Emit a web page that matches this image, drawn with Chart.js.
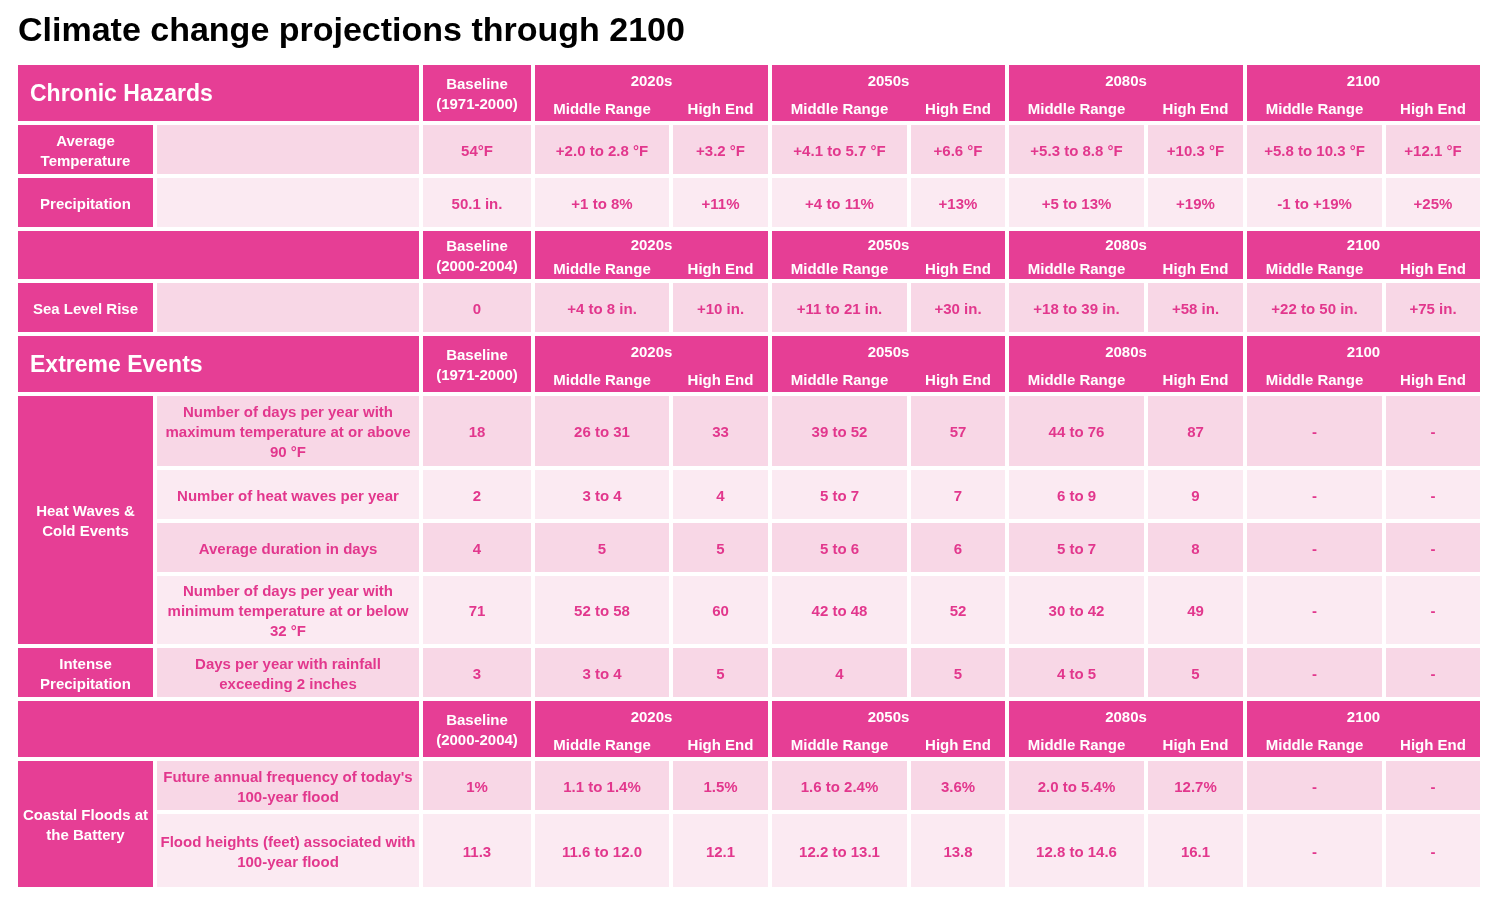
<!DOCTYPE html>
<html>
<head>
<meta charset="utf-8">
<script src="https://cdn.jsdelivr.net/npm/chart.js@4/dist/chart.umd.min.js"></script>
<style>
  html, body { margin: 0; padding: 0; background: #fff; }
  #wrap { width: 1488px; height: 898px; position: relative; }
</style>
</head>
<body>
<div id="wrap"><canvas id="chart"></canvas></div>
<script>
// ---- data ----
const chartTitle = "Climate change projections through 2100";
const sections = ["Chronic Hazards", "Extreme Events"];
const baselineObs = ["Baseline", "(1971-2000)"];
const baselineTide = ["Baseline", "(2000-2004)"];
const periods = ["2020s", "2050s", "2080s", "2100"];
const subHeaders = ["Middle Range", "High End"];

const hazards = [
  ["Average", "Temperature"],
  ["Precipitation"],
  ["Sea Level Rise"],
  ["Heat Waves &", "Cold Events"],
  ["Intense", "Precipitation"],
  ["Coastal Floods at", "the Battery"]
];
const indicators = [
  ["Number of days per year with", "maximum temperature at or above", "90 °F"],
  ["Number of heat waves per year"],
  ["Average duration in days"],
  ["Number of days per year with", "minimum temperature at or below", "32 °F"],
  ["Days per year with rainfall", "exceeding 2 inches"],
  ["Future annual frequency of today's", "100-year flood"],
  ["Flood heights (feet) associated with", "100-year flood"]
];

// baseline, 2020s mid/high, 2050s mid/high, 2080s mid/high, 2100 mid/high
const avgTemp = ["54°F", "+2.0 to 2.8 °F", "+3.2 °F", "+4.1 to 5.7 °F", "+6.6 °F", "+5.3 to 8.8 °F", "+10.3 °F", "+5.8 to 10.3 °F", "+12.1 °F"];
const precip = ["50.1 in.", "+1 to 8%", "+11%", "+4 to 11%", "+13%", "+5 to 13%", "+19%", "-1 to +19%", "+25%"];
const seaLevel = ["0", "+4 to 8 in.", "+10 in.", "+11 to 21 in.", "+30 in.", "+18 to 39 in.", "+58 in.", "+22 to 50 in.", "+75 in."];
const hotDays = ["18", "26 to 31", "33", "39 to 52", "57", "44 to 76", "87", "-", "-"];
const heatWaves = ["2", "3 to 4", "4", "5 to 7", "7", "6 to 9", "9", "-", "-"];
const waveDuration = ["4", "5", "5", "5 to 6", "6", "5 to 7", "8", "-", "-"];
const coldDays = ["71", "52 to 58", "60", "42 to 48", "52", "30 to 42", "49", "-", "-"];
const rainDays = ["3", "3 to 4", "5", "4", "5", "4 to 5", "5", "-", "-"];
const floodFreq = ["1%", "1.1 to 1.4%", "1.5%", "1.6 to 2.4%", "3.6%", "2.0 to 5.4%", "12.7%", "-", "-"];
const floodHeight = ["11.3", "11.6 to 12.0", "12.1", "12.2 to 13.1", "13.8", "12.8 to 14.6", "16.1", "-", "-"];

// ---- layout ----
const colWidths = [135, 262, 108, 134, 95, 135, 94, 135, 95, 135, 94];
const rowHeights = [56, 49, 49, 48, 49, 56, 70, 49, 49, 68, 49, 56, 49, 73];
const GAP = 4;
const LINE_H = 20;

const HEADER = "#e63e95";
const DARK = "#f8d7e6";
const LIGHT = "#fbeaf2";
const TEXT = "#e2378d";
const FONT = '"Liberation Sans", Arial, Helvetica, sans-serif';

const colStart = [];
colWidths.reduce((acc, w, i) => { colStart[i] = acc; return acc + w + GAP; }, 0);
const rowStart = [];
rowHeights.reduce((acc, h, i) => { rowStart[i] = acc; return acc + h + GAP; }, 0);
const totalW = colStart[colWidths.length - 1] + colWidths[colWidths.length - 1];
const totalH = rowStart[rowHeights.length - 1] + rowHeights[rowHeights.length - 1];

// ---- cells ----
const cells = [];

function headerRow(r, title, baseline) {
  cells.push({ c0: 0, c1: 1, r0: r, r1: r, fill: HEADER,
    texts: title ? [{ lines: [title], align: "left", pad: 12, size: 23, color: "#fff" }] : [] });
  cells.push({ c0: 2, c1: 2, r0: r, r1: r, fill: HEADER, texts: [{ lines: baseline, color: "#fff" }] });
  periods.forEach((p, i) => {
    const c = 3 + 2 * i;
    cells.push({ c0: c, c1: c + 1, r0: r, r1: r, fill: HEADER, texts: [
      { lines: [p], color: "#fff", dy: -0.23 },
      { lines: [subHeaders[0]], color: "#fff", dy: 0.26, col: c },
      { lines: [subHeaders[1]], color: "#fff", dy: 0.26, col: c + 1 }
    ] });
  });
}

function hazardCell(r0, r1, name) {
  cells.push({ c0: 0, c1: 0, r0, r1, fill: HEADER, texts: [{ lines: name, color: "#fff" }] });
}

function dataRow(r, values, fill, indicator) {
  cells.push({ c0: 1, c1: 1, r0: r, r1: r, fill, texts: indicator ? [{ lines: indicator, color: TEXT }] : [] });
  values.forEach((v, i) => {
    cells.push({ c0: 2 + i, c1: 2 + i, r0: r, r1: r, fill, texts: [{ lines: [v], color: TEXT }] });
  });
}

headerRow(0, sections[0], baselineObs);
hazardCell(1, 1, hazards[0]); dataRow(1, avgTemp, DARK);
hazardCell(2, 2, hazards[1]); dataRow(2, precip, LIGHT);
headerRow(3, "", baselineTide);
hazardCell(4, 4, hazards[2]); dataRow(4, seaLevel, DARK);
headerRow(5, sections[1], baselineObs);
hazardCell(6, 9, hazards[3]);
dataRow(6, hotDays, DARK, indicators[0]);
dataRow(7, heatWaves, LIGHT, indicators[1]);
dataRow(8, waveDuration, DARK, indicators[2]);
dataRow(9, coldDays, LIGHT, indicators[3]);
hazardCell(10, 10, hazards[4]); dataRow(10, rainDays, DARK, indicators[4]);
headerRow(11, "", baselineTide);
hazardCell(12, 13, hazards[5]);
dataRow(12, floodFreq, DARK, indicators[5]);
dataRow(13, floodHeight, LIGHT, indicators[6]);

// draws the table cells through the chart's x / y scales
const tablePlugin = {
  id: "tableCells",
  afterDraw(chart) {
    const { ctx } = chart;
    const x = chart.scales.x, y = chart.scales.y;
    ctx.save();
    cells.forEach(cell => {
      const x0 = x.getPixelForValue(colStart[cell.c0]);
      const x1 = x.getPixelForValue(colStart[cell.c1] + colWidths[cell.c1]);
      const y0 = y.getPixelForValue(rowStart[cell.r0]);
      const y1 = y.getPixelForValue(rowStart[cell.r1] + rowHeights[cell.r1]);
      ctx.fillStyle = cell.fill;
      ctx.fillRect(x0, y0, x1 - x0, y1 - y0);

      cell.texts.forEach(t => {
        ctx.font = "bold " + (t.size || 15) + "px " + FONT;
        ctx.fillStyle = t.color;
        ctx.textBaseline = "middle";
        let cx;
        if (t.align === "left") {
          ctx.textAlign = "left";
          cx = x0 + t.pad;
        } else {
          ctx.textAlign = "center";
          if (t.col !== undefined) {
            cx = (x.getPixelForValue(colStart[t.col]) + x.getPixelForValue(colStart[t.col] + colWidths[t.col])) / 2;
          } else {
            cx = (x0 + x1) / 2;
          }
        }
        const cy = (y0 + y1) / 2 + (t.dy || 0) * (y1 - y0) + 2;
        const first = cy - (t.lines.length - 1) * LINE_H / 2;
        t.lines.forEach((line, i) => ctx.fillText(line, cx, first + i * LINE_H));
      });
    });
    ctx.restore();
  }
};

new Chart(document.getElementById("chart"), {
  type: "scatter",
  data: { datasets: [{ data: [], pointRadius: 0 }] },
  options: {
    responsive: true,
    maintainAspectRatio: false,
    animation: false,
    layout: { padding: { top: 11, left: 18, right: 8, bottom: 11 } },
    scales: {
      x: { type: "linear", min: 0, max: totalW, display: false },
      y: { type: "linear", min: 0, max: totalH, reverse: true, display: false }
    },
    plugins: {
      legend: { display: false },
      tooltip: { enabled: false },
      title: {
        display: true,
        text: chartTitle,
        align: "start",
        color: "#000",
        font: { family: FONT, size: 34, weight: "bold" },
        padding: { top: 0, bottom: 13.2 }
      }
    }
  },
  plugins: [tablePlugin]
});
</script>
</body>
</html>
